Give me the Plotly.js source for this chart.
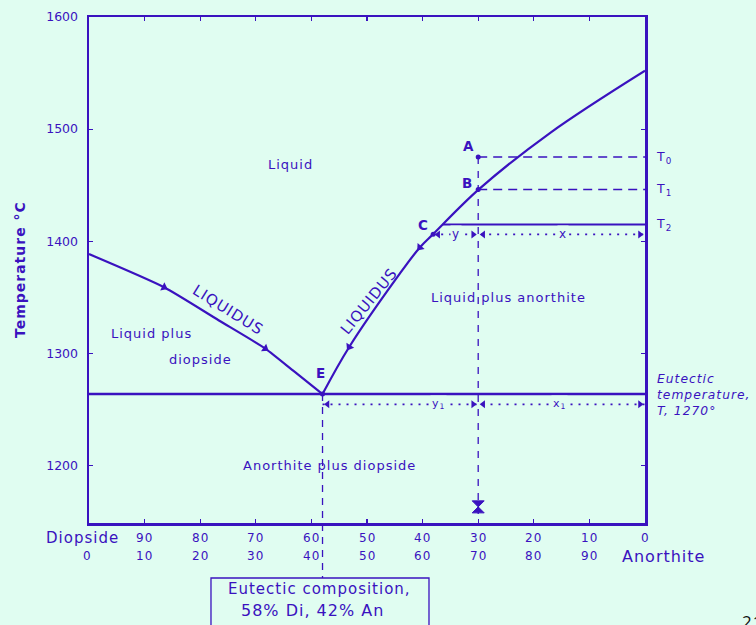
<!DOCTYPE html>
<html>
<head>
<meta charset="utf-8">
<script src="https://cdn.plot.ly/plotly-3.0.1.min.js"></script>
<style>
  html, body { margin: 0; padding: 0; background: #e0fdf1; }
  #chart { width: 756px; height: 625px; }
  .annotation-text { letter-spacing: 1px; }
</style>
</head>
<body>
<div id="chart"></div>
<script>
// ---------- data ----------
const anorthiteTicks = [0, 10, 20, 30, 40, 50, 60, 70, 80, 90, 100];
const diopsideLabels = ['Diopside', '90', '80', '70', '60', '50', '40', '30', '20', '10', '0'];
const anorthiteLabels = ['0', '10', '20', '30', '40', '50', '60', '70', '80', '90', 'Anorthite'];
const tempTicks = [1200, 1300, 1400, 1500, 1600];
const tempRange = [1148.6, 1600];

// diopside-side liquidus (wt% anorthite, °C)
const diLiquidusAn = [0, 13.5, 23.3, 31.7, 36.9, 42.0];
const diLiquidusT  = [1388.5, 1358.9, 1329.5, 1304.2, 1283.8, 1263.6];
// anorthite-side liquidus
const anLiquidusAn = [42.0, 46.8, 55.9, 59.5, 61.9, 70.1, 82.9, 100];
const anLiquidusT  = [1263.6, 1305.6, 1371.0, 1394.4, 1406.3, 1446.2, 1496.5, 1552.1];

const eutecticAn = 42.0;
const eutecticT = 1263.6;
const bulkAn = 70;               // composition of the melt A -> X
const T0 = 1475.0;               // point A
const T1 = 1446.2;               // point B
const T2 = 1415.0;
const T2StartAn = 63.6;
const pointC = [61.9, 1406.3];
const leverUpperT = 1406.0;
const leverLowerT = 1254.5;
const bulkBottomT = 1156;
const pointX_T = 1163;

// arrow positions on the liquidus curves (index into the curve arrays)
const diArrowIdx = [1, 3];
const anArrowIdx = [1, 3];

// ---------- style ----------
const INK = '#3a12bf';
const BG = '#e0fdf1';
const FONT = 'DejaVu Sans, Verdana, sans-serif';

const W = 756, H = 625;
const M = {l: 89, r: 111, t: 17, b: 102};
const plotW = W - M.l - M.r, plotH = H - M.t - M.b;
const pxPerAn = plotW / 100;
const pxPerT = plotH / (tempRange[1] - tempRange[0]);

function dirAngle(x0, y0, x1, y1) {
  const dx = (x1 - x0) * pxPerAn;
  const dy = -(y1 - y0) * pxPerT;
  return Math.atan2(dy, dx) * 180 / Math.PI;
}

const line = (x, y, opts) => Object.assign({
  type: 'scatter', mode: 'lines', x: x, y: y, hoverinfo: 'skip',
  line: {color: INK, width: 2}
}, opts || {});

const traces = [];
traces.push(line(diLiquidusAn, diLiquidusT, {line: {color: INK, width: 2.2, shape: 'spline', smoothing: 0.6}}));
traces.push(line(anLiquidusAn, anLiquidusT, {line: {color: INK, width: 2.2, shape: 'spline', smoothing: 1.0}}));
traces.push(line([0, 100], [eutecticT, eutecticT], {line: {color: INK, width: 2.5}}));
traces.push(line([T2StartAn, 100], [T2, T2], {line: {color: INK, width: 2}}));
traces.push(line([bulkAn, 100], [T0, T0], {line: {color: INK, width: 1.5, dash: '9px,6px'}}));
traces.push(line([bulkAn, 100], [T1, T1], {line: {color: INK, width: 1.5, dash: '9px,6px'}}));
traces.push(line([bulkAn, bulkAn], [T0, bulkBottomT], {line: {color: INK, width: 1.3, dash: '7px,7px'}}));
traces.push(line([pointC[0], 100], [leverUpperT, leverUpperT], {line: {color: INK, width: 1.8, dash: '2px,6px'}}));
traces.push(line([eutecticAn, 100], [leverLowerT, leverLowerT], {line: {color: INK, width: 1.8, dash: '2px,6px'}}));

// points A, B, C, E
traces.push({type: 'scatter', mode: 'markers', hoverinfo: 'skip', cliponaxis: false,
  x: [bulkAn, bulkAn, pointC[0], eutecticAn], y: [T0, T1, pointC[1], eutecticT],
  marker: {color: INK, size: 5}});

// arrowheads on liquidus curves (pointing towards E)
const arrX = [], arrY = [], arrA = [];
diArrowIdx.forEach(i => {
  arrX.push(diLiquidusAn[i]); arrY.push(diLiquidusT[i]);
  arrA.push(dirAngle(diLiquidusAn[i - 1], diLiquidusT[i - 1], diLiquidusAn[i + 1], diLiquidusT[i + 1]));
});
anArrowIdx.forEach(i => {
  arrX.push(anLiquidusAn[i]); arrY.push(anLiquidusT[i]);
  arrA.push(dirAngle(anLiquidusAn[i + 1], anLiquidusT[i + 1], anLiquidusAn[i - 1], anLiquidusT[i - 1]));
});
traces.push({type: 'scatter', mode: 'markers', hoverinfo: 'skip',
  x: arrX, y: arrY,
  marker: {symbol: 'triangle-right', size: 8, color: INK, angle: arrA, line: {width: 0}}});

// arrowheads on the lever lines
const gap = 0.9;
traces.push({type: 'scatter', mode: 'markers', hoverinfo: 'skip', cliponaxis: false,
  x: [pointC[0] + gap, bulkAn + gap, eutecticAn + gap, bulkAn + gap],
  y: [leverUpperT, leverUpperT, leverLowerT, leverLowerT],
  marker: {symbol: 'triangle-left', size: 7, color: INK}});
traces.push({type: 'scatter', mode: 'markers', hoverinfo: 'skip', cliponaxis: false,
  x: [bulkAn - gap, 100 - gap, bulkAn - gap, 100 - gap],
  y: [leverUpperT, leverUpperT, leverLowerT, leverLowerT],
  marker: {symbol: 'triangle-right', size: 7, color: INK}});

// bulk composition X
traces.push({type: 'scatter', mode: 'markers', hoverinfo: 'skip',
  x: [bulkAn], y: [pointX_T],
  marker: {symbol: 'hourglass', size: 12, color: INK, line: {color: INK, width: 1}}});

// ---------- annotations ----------
const ann = [];
const f = (size, extra) => Object.assign({family: FONT, size: size, color: INK}, extra || {});
const txt = (x, y, text, o) => ann.push(Object.assign({
  x: x, y: y, xref: 'x', yref: 'y', text: text, showarrow: false,
  xanchor: 'center', yanchor: 'middle', font: f(13)
}, o || {}));

txt(36.2, 1468.7, 'Liquid');
txt(75.4, 1349.7, 'Liquid plus anorthite');
txt(11.3, 1317.8, 'Liquid plus');
txt(20.0, 1294.7, 'diopside');
txt(43.3, 1199.7, 'Anorthite plus diopside');
txt(25.0, 1338.5, 'LIQUIDUS', {textangle: 32, font: f(15)});
txt(50.4, 1346.5, 'LIQUIDUS', {textangle: -51, font: f(15)});
txt(41.7, 1282, '<b>E</b>', {font: f(13.5)});
txt(68.2, 1484.6, '<b>A</b>', {font: f(13.5)});
txt(68.0, 1451.8, '<b>B</b>', {font: f(13.5)});
txt(60.1, 1414.5, '<b>C</b>', {font: f(13.5)});
txt(66.0, leverUpperT, 'y', {bgcolor: BG, font: f(12)});
txt(85.3, leverUpperT, 'x', {bgcolor: BG, font: f(12)});
txt(62.8, leverLowerT, 'y<sub>1</sub>', {bgcolor: BG, font: f(11)});
txt(84.7, leverLowerT, 'x<sub>1</sub>', {bgcolor: BG, font: f(11)});

// right-side labels
const tLabelX = 1.016;
[[T0, 'T<sub>0</sub>'], [T1, 'T<sub>1</sub>'], [T2, 'T<sub>2</sub>']].forEach(([t, s]) => {
  ann.push({x: tLabelX, y: t, xref: 'paper', yref: 'y', text: s, xanchor: 'left', yanchor: 'middle',
    showarrow: false, font: f(12.5)});
});
ann.push({x: 1.018, y: eutecticT - 1, xref: 'paper', yref: 'y', xanchor: 'left', yanchor: 'middle',
  align: 'left', text: '<i>Eutectic<br>temperature,<br>T, 1270°</i>', showarrow: false,
  font: f(12.3)});

// y-axis title
ann.push({x: -0.124, y: 0.5, xref: 'paper', yref: 'paper', text: 'Temperature °C', textangle: -90,
  xanchor: 'center', yanchor: 'middle', showarrow: false, font: f(14, {weight: 'bold'})});

// bottom composition labels (two rows)
const row1Y = -0.0287, row2Y = -0.066;
anorthiteTicks.forEach((a, i) => {
  if (i === 0) {
    ann.push({x: -0.0117, y: row1Y, xref: 'paper', yref: 'paper', text: diopsideLabels[i], showarrow: false,
      xanchor: 'center', yanchor: 'middle', font: f(15)});
  } else {
    ann.push({x: a, y: row1Y, xref: 'x', yref: 'paper', text: diopsideLabels[i], showarrow: false,
      xanchor: 'center', yanchor: 'middle', font: f(12)});
  }
  if (i === anorthiteTicks.length - 1) {
    ann.push({x: 1.034, y: row2Y, xref: 'paper', yref: 'paper', text: anorthiteLabels[i], showarrow: false,
      xanchor: 'center', yanchor: 'middle', font: f(16)});
  } else {
    ann.push({x: a, y: row2Y, xref: 'x', yref: 'paper', text: anorthiteLabels[i], showarrow: false,
      xanchor: 'center', yanchor: 'middle', xshift: i === 0 ? -2 : 0, font: f(12)});
  }
});

// eutectic composition box text
ann.push({x: 0.415, y: -0.1304, xref: 'paper', yref: 'paper', text: 'Eutectic composition,',
  xanchor: 'center', yanchor: 'middle', showarrow: false, font: f(15)});
ann.push({x: 0.402, y: -0.172, xref: 'paper', yref: 'paper', text: '58% Di, 42% An',
  xanchor: 'center', yanchor: 'middle', showarrow: false, font: f(16)});

// page number
ann.push({x: 1.1709, y: -0.1937, xref: 'paper', yref: 'paper', text: '214', xanchor: 'left', yanchor: 'middle',
  showarrow: false, font: {family: 'Open Sans, sans-serif', size: 17, color: '#111111'}});

// ---------- shapes ----------
const eutPaperX = (eutecticAn - 0) / 100;
const eutPaperY = (eutecticT - tempRange[0]) / (tempRange[1] - tempRange[0]);
const shapes = [
  {type: 'line', xref: 'paper', yref: 'paper', x0: eutPaperX, x1: eutPaperX,
   y0: eutPaperY, y1: -0.1087, line: {color: INK, width: 1.3, dash: '7px,6px'}},
  {type: 'rect', xref: 'paper', yref: 'paper', x0: 0.2194, x1: 0.6115, y0: -0.1087, y1: -0.25,
   line: {color: INK, width: 1.3}, fillcolor: 'rgba(0,0,0,0)'}
];

const axisCommon = {
  showline: true, linecolor: INK, linewidth: 2.5, mirror: 'ticks',
  ticks: 'inside', ticklen: 4, tickwidth: 1.2, tickcolor: INK,
  showgrid: false, zeroline: false, fixedrange: true
};

const layout = {
  width: W, height: H,
  margin: M,
  paper_bgcolor: BG, plot_bgcolor: BG,
  showlegend: false,
  xaxis: Object.assign({}, axisCommon, {
    range: [0, 100], tickvals: anorthiteTicks.slice(1, -1), showticklabels: false
  }),
  yaxis: Object.assign({}, axisCommon, {
    range: tempRange, tickvals: tempTicks, ticktext: tempTicks.map(String),
    ticklabelstandoff: 6,
    tickfont: {family: FONT, size: 12.5, color: INK}
  }),
  annotations: ann,
  shapes: shapes
};

Plotly.newPlot('chart', traces, layout, {displayModeBar: false, staticPlot: true});
</script>
</body>
</html>
